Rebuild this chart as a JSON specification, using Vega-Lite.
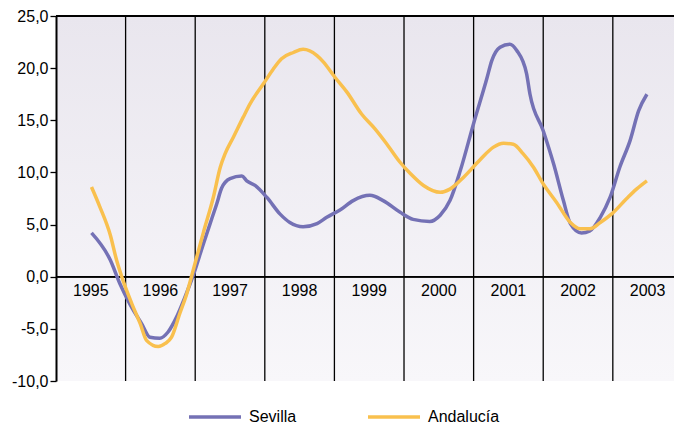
{
  "$schema": "https://vega.github.io/schema/vega-lite/v6.json",
  "width": 618,
  "height": 365,
  "autosize": "none",
  "padding": {"left": 56, "top": 16, "right": 0, "bottom": 45},
  "background": "white",
  "config": {
    "font": "Liberation Sans",
    "view": {
      "stroke": null,
      "fill": {"gradient": "linear", "x1": 0, "y1": 0, "x2": 0, "y2": 1, "stops": [{"offset": 0, "color": "#e9e6ee"}, {"offset": 1, "color": "#f8f7fa"}]}
    }
  },
  "datasets": {
    "bounds": [{"b": 1996}, {"b": 1997}, {"b": 1998}, {"b": 1999}, {"b": 2000}, {"b": 2001}, {"b": 2002}, {"b": 2003}],
    "years": [
      {"pos": 1995.5, "label": "1995"}, {"pos": 1996.5, "label": "1996"}, {"pos": 1997.5, "label": "1997"},
      {"pos": 1998.5, "label": "1998"}, {"pos": 1999.5, "label": "1999"}, {"pos": 2000.5, "label": "2000"},
      {"pos": 2001.5, "label": "2001"}, {"pos": 2002.5, "label": "2002"}, {"pos": 2003.5, "label": "2003"}
    ],
    "series": [
      {"serie": "Sevilla", "t": 1995.51, "v": 4.2},
      {"serie": "Sevilla", "t": 1995.78, "v": 1.6},
      {"serie": "Sevilla", "t": 1995.92, "v": -0.7},
      {"serie": "Sevilla", "t": 1996.06, "v": -2.6},
      {"serie": "Sevilla", "t": 1996.23, "v": -4.5},
      {"serie": "Sevilla", "t": 1996.35, "v": -5.8},
      {"serie": "Sevilla", "t": 1996.49, "v": -5.9},
      {"serie": "Sevilla", "t": 1996.61, "v": -5.3},
      {"serie": "Sevilla", "t": 1996.73, "v": -3.9},
      {"serie": "Sevilla", "t": 1996.85, "v": -2.0},
      {"serie": "Sevilla", "t": 1996.97, "v": 0.1},
      {"serie": "Sevilla", "t": 1997.12, "v": 3.2},
      {"serie": "Sevilla", "t": 1997.24, "v": 5.6},
      {"serie": "Sevilla", "t": 1997.31, "v": 7.0},
      {"serie": "Sevilla", "t": 1997.38, "v": 8.5},
      {"serie": "Sevilla", "t": 1997.5, "v": 9.4},
      {"serie": "Sevilla", "t": 1997.67, "v": 9.65},
      {"serie": "Sevilla", "t": 1997.74, "v": 9.2},
      {"serie": "Sevilla", "t": 1997.86, "v": 8.75},
      {"serie": "Sevilla", "t": 1998.03, "v": 7.6},
      {"serie": "Sevilla", "t": 1998.22, "v": 6.0},
      {"serie": "Sevilla", "t": 1998.36, "v": 5.2},
      {"serie": "Sevilla", "t": 1998.55, "v": 4.8},
      {"serie": "Sevilla", "t": 1998.75, "v": 5.1},
      {"serie": "Sevilla", "t": 1998.89, "v": 5.7},
      {"serie": "Sevilla", "t": 1999.08, "v": 6.4},
      {"serie": "Sevilla", "t": 1999.27, "v": 7.3},
      {"serie": "Sevilla", "t": 1999.51, "v": 7.8},
      {"serie": "Sevilla", "t": 1999.7, "v": 7.3},
      {"serie": "Sevilla", "t": 1999.94, "v": 6.2},
      {"serie": "Sevilla", "t": 2000.13, "v": 5.5},
      {"serie": "Sevilla", "t": 2000.37, "v": 5.3},
      {"serie": "Sevilla", "t": 2000.52, "v": 5.9},
      {"serie": "Sevilla", "t": 2000.66, "v": 7.3},
      {"serie": "Sevilla", "t": 2000.81, "v": 10.2},
      {"serie": "Sevilla", "t": 2001.0, "v": 14.7},
      {"serie": "Sevilla", "t": 2001.19, "v": 19.0},
      {"serie": "Sevilla", "t": 2001.26, "v": 20.7},
      {"serie": "Sevilla", "t": 2001.38, "v": 22.0},
      {"serie": "Sevilla", "t": 2001.52, "v": 22.3},
      {"serie": "Sevilla", "t": 2001.62, "v": 21.7},
      {"serie": "Sevilla", "t": 2001.76, "v": 19.5},
      {"serie": "Sevilla", "t": 2001.81, "v": 17.5},
      {"serie": "Sevilla", "t": 2002.0, "v": 14.0},
      {"serie": "Sevilla", "t": 2002.15, "v": 10.8},
      {"serie": "Sevilla", "t": 2002.29, "v": 7.3},
      {"serie": "Sevilla", "t": 2002.39, "v": 5.1},
      {"serie": "Sevilla", "t": 2002.55, "v": 4.2},
      {"serie": "Sevilla", "t": 2002.67, "v": 4.4},
      {"serie": "Sevilla", "t": 2002.82, "v": 5.7},
      {"serie": "Sevilla", "t": 2002.96, "v": 7.6},
      {"serie": "Sevilla", "t": 2003.1, "v": 10.5},
      {"serie": "Sevilla", "t": 2003.25, "v": 13.1},
      {"serie": "Sevilla", "t": 2003.37, "v": 15.9},
      {"serie": "Sevilla", "t": 2003.49, "v": 17.5},
      {"serie": "Andalucía", "t": 1995.51, "v": 8.6},
      {"serie": "Andalucía", "t": 1995.63, "v": 6.7},
      {"serie": "Andalucía", "t": 1995.78, "v": 4.0},
      {"serie": "Andalucía", "t": 1995.87, "v": 1.6},
      {"serie": "Andalucía", "t": 1995.97, "v": -0.5},
      {"serie": "Andalucía", "t": 1996.09, "v": -2.6},
      {"serie": "Andalucía", "t": 1996.21, "v": -4.5},
      {"serie": "Andalucía", "t": 1996.3, "v": -6.1},
      {"serie": "Andalucía", "t": 1996.47, "v": -6.7},
      {"serie": "Andalucía", "t": 1996.57, "v": -6.4},
      {"serie": "Andalucía", "t": 1996.66, "v": -5.8},
      {"serie": "Andalucía", "t": 1996.78, "v": -3.5},
      {"serie": "Andalucía", "t": 1996.88, "v": -1.6},
      {"serie": "Andalucía", "t": 1996.97, "v": 0.6},
      {"serie": "Andalucía", "t": 1997.12, "v": 4.3},
      {"serie": "Andalucía", "t": 1997.26, "v": 7.6},
      {"serie": "Andalucía", "t": 1997.36, "v": 10.5},
      {"serie": "Andalucía", "t": 1997.43, "v": 11.8},
      {"serie": "Andalucía", "t": 1997.55, "v": 13.4},
      {"serie": "Andalucía", "t": 1997.69, "v": 15.3},
      {"serie": "Andalucía", "t": 1997.79, "v": 16.6},
      {"serie": "Andalucía", "t": 1997.98, "v": 18.5},
      {"serie": "Andalucía", "t": 1998.12, "v": 19.9},
      {"serie": "Andalucía", "t": 1998.24, "v": 20.9},
      {"serie": "Andalucía", "t": 1998.41, "v": 21.5},
      {"serie": "Andalucía", "t": 1998.55, "v": 21.8},
      {"serie": "Andalucía", "t": 1998.75, "v": 21.2},
      {"serie": "Andalucía", "t": 1998.84, "v": 20.6},
      {"serie": "Andalucía", "t": 1999.01, "v": 19.1},
      {"serie": "Andalucía", "t": 1999.18, "v": 17.7},
      {"serie": "Andalucía", "t": 1999.39, "v": 15.6},
      {"serie": "Andalucía", "t": 1999.58, "v": 14.2},
      {"serie": "Andalucía", "t": 1999.75, "v": 12.75},
      {"serie": "Andalucía", "t": 1999.94, "v": 11.0},
      {"serie": "Andalucía", "t": 2000.09, "v": 9.9},
      {"serie": "Andalucía", "t": 2000.28, "v": 8.75},
      {"serie": "Andalucía", "t": 2000.52, "v": 8.1},
      {"serie": "Andalucía", "t": 2000.66, "v": 8.4},
      {"serie": "Andalucía", "t": 2000.85, "v": 9.5},
      {"serie": "Andalucía", "t": 2001.09, "v": 11.2},
      {"serie": "Andalucía", "t": 2001.28, "v": 12.4},
      {"serie": "Andalucía", "t": 2001.43, "v": 12.8},
      {"serie": "Andalucía", "t": 2001.57, "v": 12.7},
      {"serie": "Andalucía", "t": 2001.71, "v": 11.8},
      {"serie": "Andalucía", "t": 2001.86, "v": 10.5},
      {"serie": "Andalucía", "t": 2002.0, "v": 8.9},
      {"serie": "Andalucía", "t": 2002.19, "v": 7.15},
      {"serie": "Andalucía", "t": 2002.39, "v": 5.2},
      {"serie": "Andalucía", "t": 2002.53, "v": 4.6},
      {"serie": "Andalucía", "t": 2002.67, "v": 4.6},
      {"serie": "Andalucía", "t": 2002.82, "v": 5.2},
      {"serie": "Andalucía", "t": 2002.98, "v": 6.0},
      {"serie": "Andalucía", "t": 2003.2, "v": 7.5},
      {"serie": "Andalucía", "t": 2003.34, "v": 8.4},
      {"serie": "Andalucía", "t": 2003.49, "v": 9.2}
    ]
  },
  "layer": [
    {
      "data": {"name": "bounds"},
      "mark": {"type": "rule", "color": "black", "strokeWidth": 1.3},
      "encoding": {
        "x": {"field": "b", "type": "quantitative", "scale": {"domain": [1995, 2003.879], "nice": false, "zero": false}, "axis": null}
      }
    },
    {
      "data": {"name": "bounds"},
      "mark": {"type": "rule", "color": "black", "strokeWidth": 1.3},
      "encoding": {"y": {"datum": 0, "type": "quantitative"}}
    },
    {
      "data": {"name": "bounds"},
      "mark": {"type": "rule", "color": "black", "strokeWidth": 2},
      "encoding": {"y": {"datum": 25, "type": "quantitative"}}
    },
    {
      "data": {"name": "years"},
      "mark": {"type": "text", "fontSize": 16, "color": "black", "baseline": "middle", "align": "center"},
      "encoding": {
        "x": {"field": "pos", "type": "quantitative"},
        "y": {"datum": -1.4, "type": "quantitative"},
        "text": {"field": "label"}
      }
    },
    {
      "data": {"name": "series"},
      "mark": {"type": "line", "strokeWidth": 3.5, "interpolate": "monotone"},
      "encoding": {
        "x": {"field": "t", "type": "quantitative", "scale": {"domain": [1995, 2003.879], "nice": false, "zero": false},
          "axis": {"labels": false, "ticks": false, "title": null, "grid": false, "domainColor": "black", "domainWidth": 2.5}},
        "y": {"field": "v", "type": "quantitative", "scale": {"domain": [-10, 25], "nice": false, "zero": false},
          "axis": {"title": null, "grid": false, "values": [-10, -5, 0, 5, 10, 15, 20, 25],
            "labelExpr": "replace(replace(format(datum.value, '.1f'), '.', ','), '\u2212', '-')",
            "domainColor": "black", "domainWidth": 2, "tickColor": "black", "tickWidth": 1.3, "tickSize": 6,
            "labelFontSize": 16, "labelColor": "black", "labelPadding": 2}},
        "color": {"field": "serie", "type": "nominal",
          "scale": {"domain": ["Sevilla", "Andalucía"], "range": ["#7471b5", "#f9c04e"]},
          "legend": {"orient": "none", "legendX": 131, "legendY": 373, "direction": "horizontal", "title": null,
            "symbolType": "stroke", "symbolSize": 2704, "symbolStrokeWidth": 3.5, "labelFontSize": 16,
            "labelOffset": 6, "columnPadding": 64, "padding": 0, "labelColor": "black"}}
      }
    }
  ]
}
